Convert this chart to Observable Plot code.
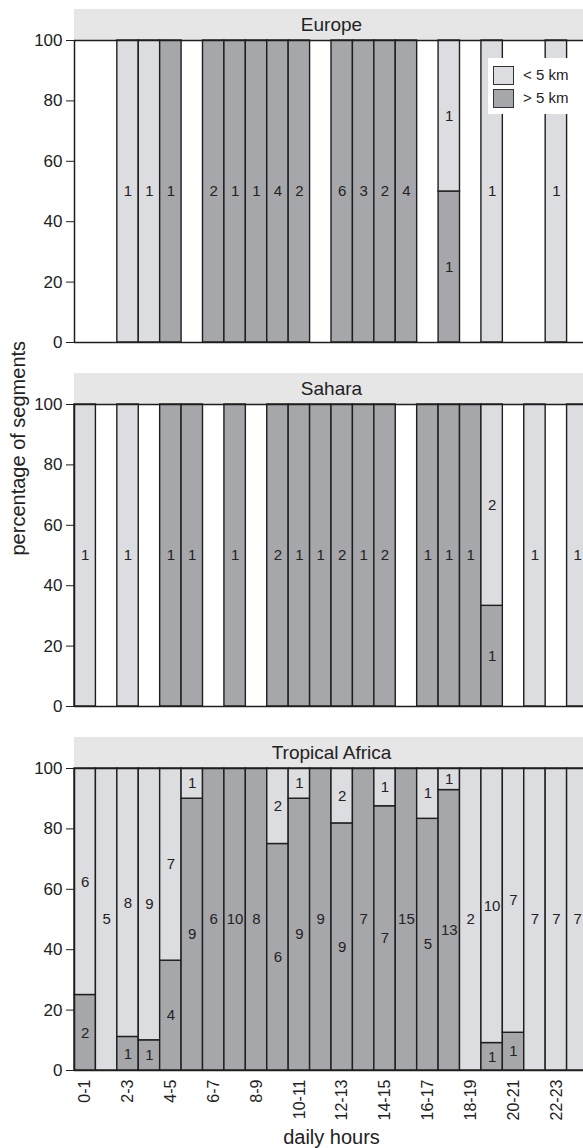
<!DOCTYPE html>
<html><head><meta charset="utf-8">
<script src="https://cdn.jsdelivr.net/npm/d3@7"></script>
<script src="https://cdn.jsdelivr.net/npm/@observablehq/plot@0.6"></script>
<style>
html,body{margin:0;padding:0;background:#fff;overflow:hidden}
#wrap{position:relative;width:583px;height:1148px;overflow:hidden}
#chart svg{max-width:none !important;width:590px !important;height:1148px !important;display:block}
#legend{position:absolute;left:488px;top:58px;width:100px;height:56px;background:#fff;font-family:"Liberation Sans",Arial,Helvetica,sans-serif;font-size:15px;color:#222}
.sw{position:absolute;left:5px;width:21px;height:19px;border:1px solid #333;box-sizing:border-box}
.lb{position:absolute;left:35px;line-height:19px}
</style></head><body>
<div id="wrap"><div id="chart"></div>
<div id="legend">
 <div class="sw" style="top:8px;background:#dcdde0"></div><div class="lb" style="top:7px">&lt; 5 km</div>
 <div class="sw" style="top:31px;background:#a6a7ab"></div><div class="lb" style="top:30px">&gt; 5 km</div>
</div></div>
<script>
const hours = ["0-1","1-2","2-3","3-4","4-5","5-6","6-7","7-8","8-9","9-10","10-11","11-12",
  "12-13","13-14","14-15","15-16","16-17","17-18","18-19","19-20","20-21","21-22","22-23","23-24"];
const regions = ["Europe","Sahara","Tropical Africa"];
const categories = ["< 5 km","> 5 km"];
// counts of segments per hour
const europeNear = [0,0,1,1,0,0,0,0,0,0,0,0,0,0,0,0,0,1,0,1,0,0,1,0];
const europeFar  = [0,0,0,0,1,0,2,1,1,4,2,0,6,3,2,4,0,1,0,0,0,0,0,0];
const saharaNear = [1,0,1,0,0,0,0,0,0,0,0,0,0,0,0,0,0,0,0,2,0,1,0,1];
const saharaFar  = [0,0,0,0,1,1,0,1,0,2,1,1,2,1,2,0,1,1,1,1,0,0,0,0];
const tropNear   = [6,5,8,9,7,1,0,0,0,2,1,0,2,0,1,0,1,1,2,10,7,7,7,7];
const tropFar    = [2,0,1,1,4,9,6,10,8,6,9,9,9,7,7,15,5,13,0,1,1,0,0,0];

const series = {
  "Europe": [europeNear, europeFar],
  "Sahara": [saharaNear, saharaFar],
  "Tropical Africa": [tropNear, tropFar]
};
const segs = [];
for (const r of regions) {
  const [near, far] = series[r];
  hours.forEach((h, i) => {
    const tot = near[i] + far[i];
    if (!tot) return;
    const pf = far[i] / tot * 100;
    if (far[i] > 0) segs.push({region: r, h: i, cat: "> 5 km", n: far[i], y1: 0, y2: pf});
    if (near[i] > 0) segs.push({region: r, h: i, cat: "< 5 km", n: near[i], y1: pf, y2: 100});
  });
}
const light = "#dcdde0", dark = "#a6a7ab", ink = "#1e1e1e";
const yTop = 100 * 333 / 302;
const font = '"Liberation Sans", Arial, Helvetica, sans-serif';

const chart = Plot.plot({
  width: 590, height: 1148,
  marginLeft: 74, marginRight: 2, marginTop: 9, marginBottom: 78,
  style: {fontFamily: font, color: "#222", background: "transparent"},
  x: {domain: [0, 24]},
  y: {domain: [0, yTop]},
  fy: {domain: regions, paddingInner: 31 / 364, paddingOuter: 0, axis: null},
  color: {domain: categories, range: [light, dark]},
  marks: [
    Plot.rect(regions, {fy: d => d, x1: 0, x2: 24, y1: 100, y2: yTop, fill: "#e6e6e7"}),
    Plot.text(regions, {fy: d => d, x: 12, y: (100 + yTop) / 2, text: d => d, fontSize: 19, fill: "#222"}),
    Plot.rectY(segs, {fy: "region", x1: "h", x2: d => d.h + 1, y1: "y1", y2: "y2", fill: "cat", stroke: ink, strokeWidth: 1.4}),
    Plot.text(segs, {fy: "region", x: d => d.h + 0.5, y: d => (d.y1 + d.y2) / 2, text: d => String(d.n), fontSize: 15, fill: "#222"}),
    Plot.ruleY([0, 100], {stroke: ink, strokeWidth: 1.5}),
    Plot.ruleX([0, 24], {y1: 0, y2: 100, stroke: ink, strokeWidth: 1.5}),
    Plot.axisY({ticks: [0, 20, 40, 60, 80, 100], label: null, fontSize: 17, tickSize: 8, tickPadding: 4, stroke: ink, facetAnchor: "left"}),
    Plot.axisX({ticks: hours.map((h, i) => i).filter(i => i % 2 === 0).map(i => i + 0.5),
      tickFormat: d => hours[Math.floor(d)], tickRotate: -90, tickSize: 0, tickPadding: 9,
      fontSize: 16, label: null, facetAnchor: "bottom"}),
    Plot.text(["percentage of segments"], {fy: ["Sahara"], frameAnchor: "left", y: 50, dx: -56, rotate: -90, text: d => d, fontSize: 20, fill: "#222"}),
    Plot.text(["daily hours"], {fy: ["Tropical Africa"], x: 12, frameAnchor: "bottom", dy: 73, text: d => d, fontSize: 20, fill: "#222"})
  ]
});
document.getElementById("chart").appendChild(chart);
</script>
</body></html>
